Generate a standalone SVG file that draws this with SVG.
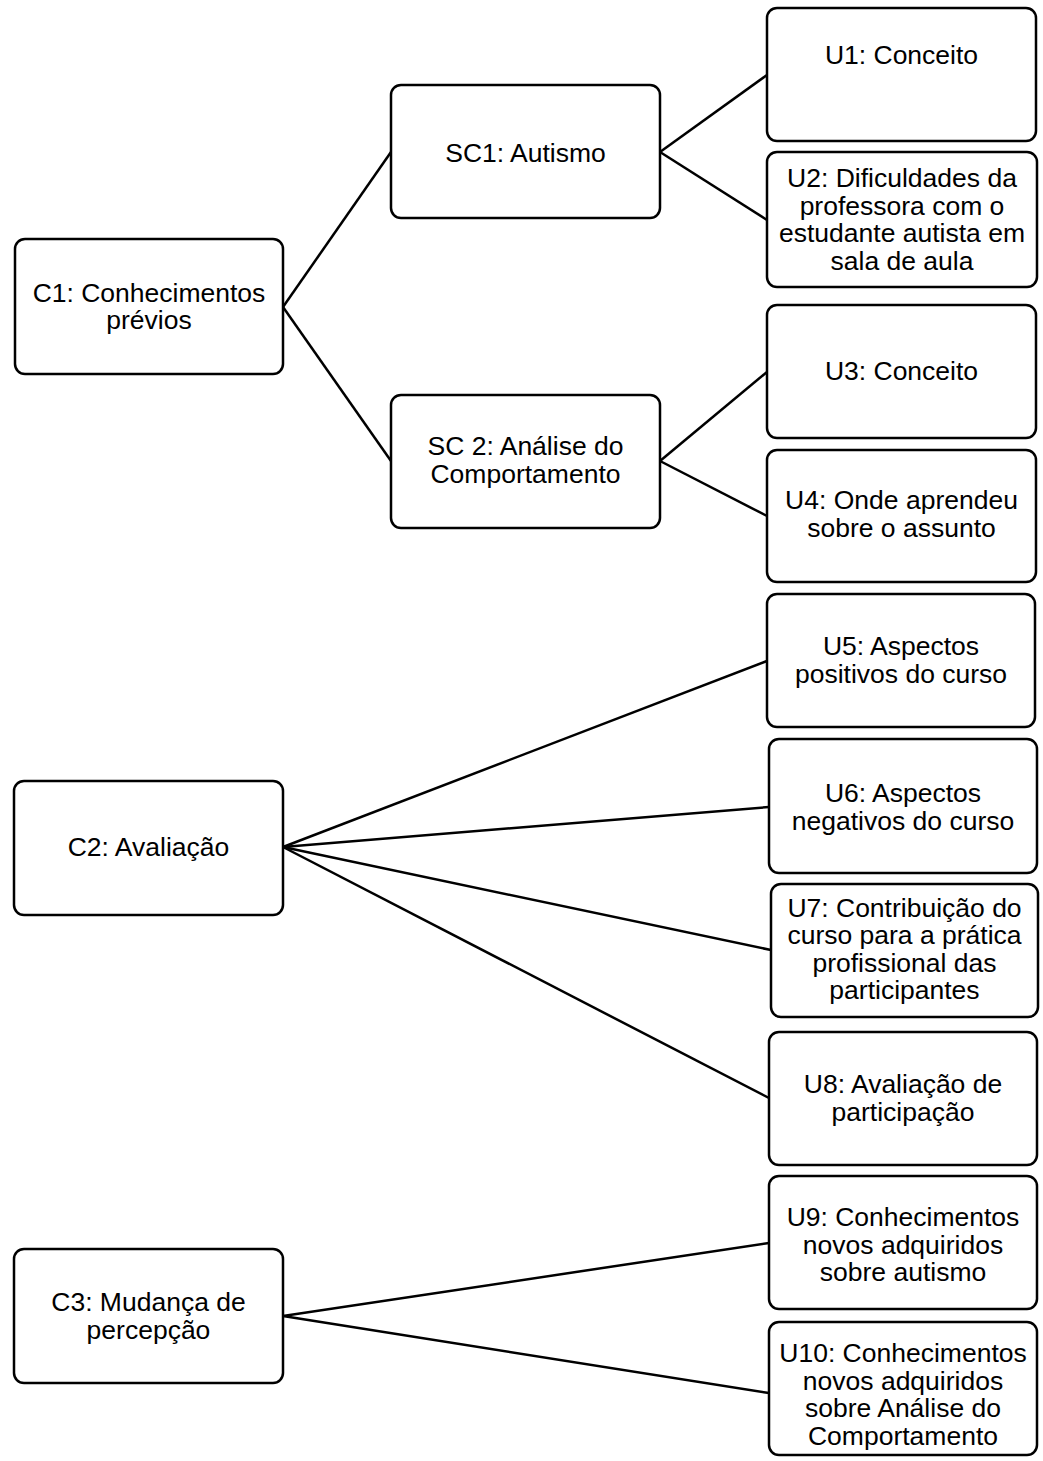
<svg xmlns="http://www.w3.org/2000/svg" width="1043" height="1461" viewBox="0 0 1043 1461">
<style>
.box{fill:#fff;stroke:#000;stroke-width:2.5}
.lbl{font-family:"Liberation Sans",Arial,sans-serif;font-size:26.5px;fill:#000;text-anchor:middle}
.conn line{stroke:#000;stroke-width:2.5}
</style>
<rect width="1043" height="1461" fill="#fff"/>
<g id="connectors" class="conn">
<line x1="283" y1="307" x2="391" y2="152"/>
<line x1="283" y1="307" x2="391" y2="461"/>
<line x1="660" y1="152" x2="767" y2="75"/>
<line x1="660" y1="152" x2="767" y2="220"/>
<line x1="660" y1="461" x2="767" y2="372"/>
<line x1="660" y1="461" x2="767" y2="516"/>
<line x1="283" y1="847" x2="767" y2="661"/>
<line x1="283" y1="847" x2="769" y2="807"/>
<line x1="283" y1="847" x2="771" y2="950"/>
<line x1="283" y1="847" x2="769" y2="1098"/>
<line x1="283" y1="1316" x2="769" y2="1243"/>
<line x1="283" y1="1316" x2="769" y2="1393"/>
</g>
<g id="C1"><rect class="box" x="15" y="239" width="268" height="135" rx="10"/><text class="lbl" x="149" y="301.7">C1: Conhecimentos</text><text class="lbl" x="149" y="329.2">prévios</text></g>
<g id="SC1"><rect class="box" x="391" y="85" width="269" height="133" rx="10"/><text class="lbl" x="525.5" y="162">SC1: Autismo</text></g>
<g id="SC2"><rect class="box" x="391" y="395" width="269" height="133" rx="10"/><text class="lbl" x="525.5" y="455">SC 2: Análise do</text><text class="lbl" x="525.5" y="482.5">Comportamento</text></g>
<g id="U1"><rect class="box" x="767" y="8" width="269" height="133" rx="10"/><text class="lbl" x="901.5" y="64">U1: Conceito</text></g>
<g id="U2"><rect class="box" x="767" y="152" width="270" height="135" rx="10"/><text class="lbl" x="902" y="187">U2: Dificuldades da</text><text class="lbl" x="902" y="214.5">professora com o</text><text class="lbl" x="902" y="242">estudante autista em</text><text class="lbl" x="902" y="269.5">sala de aula</text></g>
<g id="U3"><rect class="box" x="767" y="305" width="269" height="133" rx="10"/><text class="lbl" x="901.5" y="380">U3: Conceito</text></g>
<g id="U4"><rect class="box" x="767" y="450" width="269" height="132" rx="10"/><text class="lbl" x="901.5" y="509">U4: Onde aprendeu</text><text class="lbl" x="901.5" y="536.5">sobre o assunto</text></g>
<g id="U5"><rect class="box" x="767" y="594" width="268" height="133" rx="10"/><text class="lbl" x="901" y="655">U5: Aspectos</text><text class="lbl" x="901" y="682.5">positivos do curso</text></g>
<g id="U6"><rect class="box" x="769" y="739" width="268" height="134" rx="10"/><text class="lbl" x="903" y="802">U6: Aspectos</text><text class="lbl" x="903" y="829.5">negativos do curso</text></g>
<g id="U7"><rect class="box" x="771" y="884" width="267" height="133" rx="10"/><text class="lbl" x="904.5" y="916.5">U7: Contribuição do</text><text class="lbl" x="904.5" y="944">curso para a prática</text><text class="lbl" x="904.5" y="971.5">profissional das</text><text class="lbl" x="904.5" y="999">participantes</text></g>
<g id="U8"><rect class="box" x="769" y="1032" width="268" height="133" rx="10"/><text class="lbl" x="903" y="1093">U8: Avaliação de</text><text class="lbl" x="903" y="1120.5">participação</text></g>
<g id="U9"><rect class="box" x="769" y="1176" width="268" height="133" rx="10"/><text class="lbl" x="903" y="1226">U9: Conhecimentos</text><text class="lbl" x="903" y="1253.5">novos adquiridos</text><text class="lbl" x="903" y="1281">sobre autismo</text></g>
<g id="U10"><rect class="box" x="769" y="1322" width="268" height="133" rx="10"/><text class="lbl" x="903" y="1362">U10: Conhecimentos</text><text class="lbl" x="903" y="1389.5">novos adquiridos</text><text class="lbl" x="903" y="1417">sobre Análise do</text><text class="lbl" x="903" y="1444.5">Comportamento</text></g>
<g id="C2"><rect class="box" x="14" y="781" width="269" height="134" rx="10"/><text class="lbl" x="148.5" y="856">C2: Avaliação</text></g>
<g id="C3"><rect class="box" x="14" y="1249" width="269" height="134" rx="10"/><text class="lbl" x="148.5" y="1311">C3: Mudança de</text><text class="lbl" x="148.5" y="1338.5">percepção</text></g>
</svg>
